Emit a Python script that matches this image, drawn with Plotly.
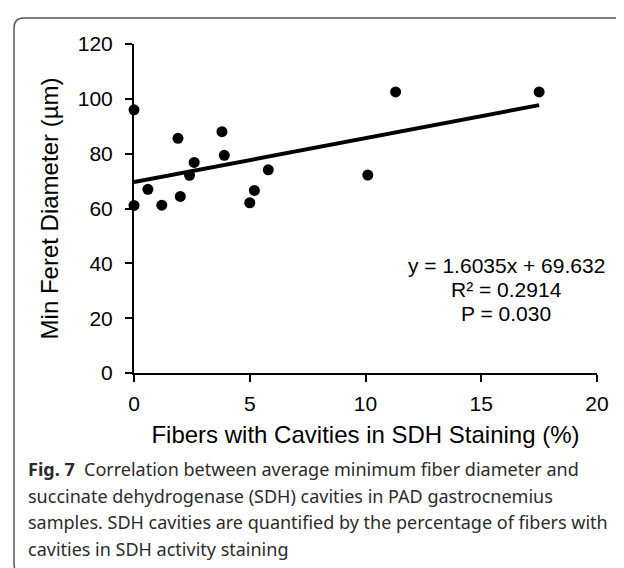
import plotly.graph_objects as go

# Data
fibers_pct = [0.0, 0.0, 0.6, 1.2, 1.9, 2.0, 2.4, 2.6, 3.8, 3.9, 5.0, 5.2, 5.8, 10.1, 11.3, 17.5]
min_feret = [96.0, 61.1, 67.0, 61.2, 85.6, 64.4, 72.1, 76.8, 88.0, 79.4, 62.1, 66.6, 74.1, 72.2, 102.5, 102.5]
slope = 1.6035
intercept = 69.632
eq_lines = ["y = 1.6035x + 69.632", "R² = 0.2914", "P = 0.030"]
x_ticks = [0, 5, 10, 15, 20]
y_ticks = [0, 20, 40, 60, 80, 100, 120]
caption_lines = [
    "<b>Fig. 7</b>  Correlation between average minimum fiber diameter and",
    "succinate dehydrogenase (SDH) cavities in PAD gastrocnemius",
    "samples. SDH cavities are quantified by the percentage of fibers with",
    "cavities in SDH activity staining",
]

W, H = 624, 568
L, R, T, B = 126, 35, 36, 203
PW, PH = W - L - R, H - T - B

def px(x):
    return (x - L) / PW

def py(y):
    return (H - B - y) / PH

trend_x = [min(fibers_pct), max(fibers_pct)]
trend_y = [slope * v + intercept for v in trend_x]

fig = go.Figure()
fig.add_trace(go.Scatter(x=trend_x, y=trend_y, mode="lines",
                         line=dict(color="black", width=4), showlegend=False,
                         cliponaxis=False))
fig.add_trace(go.Scatter(x=fibers_pct, y=min_feret, mode="markers",
                         marker=dict(color="black", size=11), showlegend=False,
                         cliponaxis=False))

FONT = "Liberation Sans, Arial, sans-serif"
axis_font = dict(family=FONT, size=21, color="black")
fig.update_xaxes(range=[0, 20], tickvals=x_ticks, showline=True, linecolor="black",
                 linewidth=2, ticks="outside", ticklen=7, tickwidth=2, tickcolor="black",
                 showgrid=False, zeroline=False, tickfont=axis_font, ticklabelstandoff=4,
                 title=dict(text="Fibers with Cavities in SDH Staining (%)",
                            font=dict(family=FONT, size=24, color="black"),
                            standoff=12))
fig.update_yaxes(range=[0, 120], tickvals=y_ticks, showline=True, linecolor="black",
                 linewidth=2, ticks="outside", ticklen=7, tickwidth=2, tickcolor="black",
                 showgrid=False, zeroline=False, tickfont=axis_font, ticklabelstandoff=8,
                 title=dict(text="Min Feret Diameter (µm)",
                            font=dict(family=FONT, size=24, color="black"),
                            standoff=12))

annotations = []
eq_y_px = [257, 281, 305]
for txt, yy in zip(eq_lines, eq_y_px):
    annotations.append(dict(text=txt, xref="paper", yref="paper", x=px(498), y=py(yy),
                            xanchor="center", yanchor="middle", showarrow=False,
                            font=dict(family=FONT, size=21, color="black")))
cap_y_px = [461, 488, 514, 541]
for txt, yy in zip(caption_lines, cap_y_px):
    annotations.append(dict(text=txt, xref="paper", yref="paper", x=px(18), y=py(yy),
                            xanchor="left", yanchor="middle", showarrow=False, align="left",
                            font=dict(family="Noto Sans, sans-serif", size=18, color="#2b2b2b")))

border = (f"M {px(622)} {py(10)} L {px(16)} {py(10)} Q {px(6)} {py(10)} {px(6)} {py(20)} "
          f"L {px(6)} {py(555)} Q {px(6)} {py(566)} {px(14)} {py(571)}")

fig.update_layout(width=W, height=H, margin=dict(l=L, r=R, t=T, b=B),
                  paper_bgcolor="white", plot_bgcolor="white",
                  annotations=annotations,
                  shapes=[dict(type="path", xref="paper", yref="paper", path=border,
                               line=dict(color="#555555", width=1.5))])

fig.write_html("out.html")
